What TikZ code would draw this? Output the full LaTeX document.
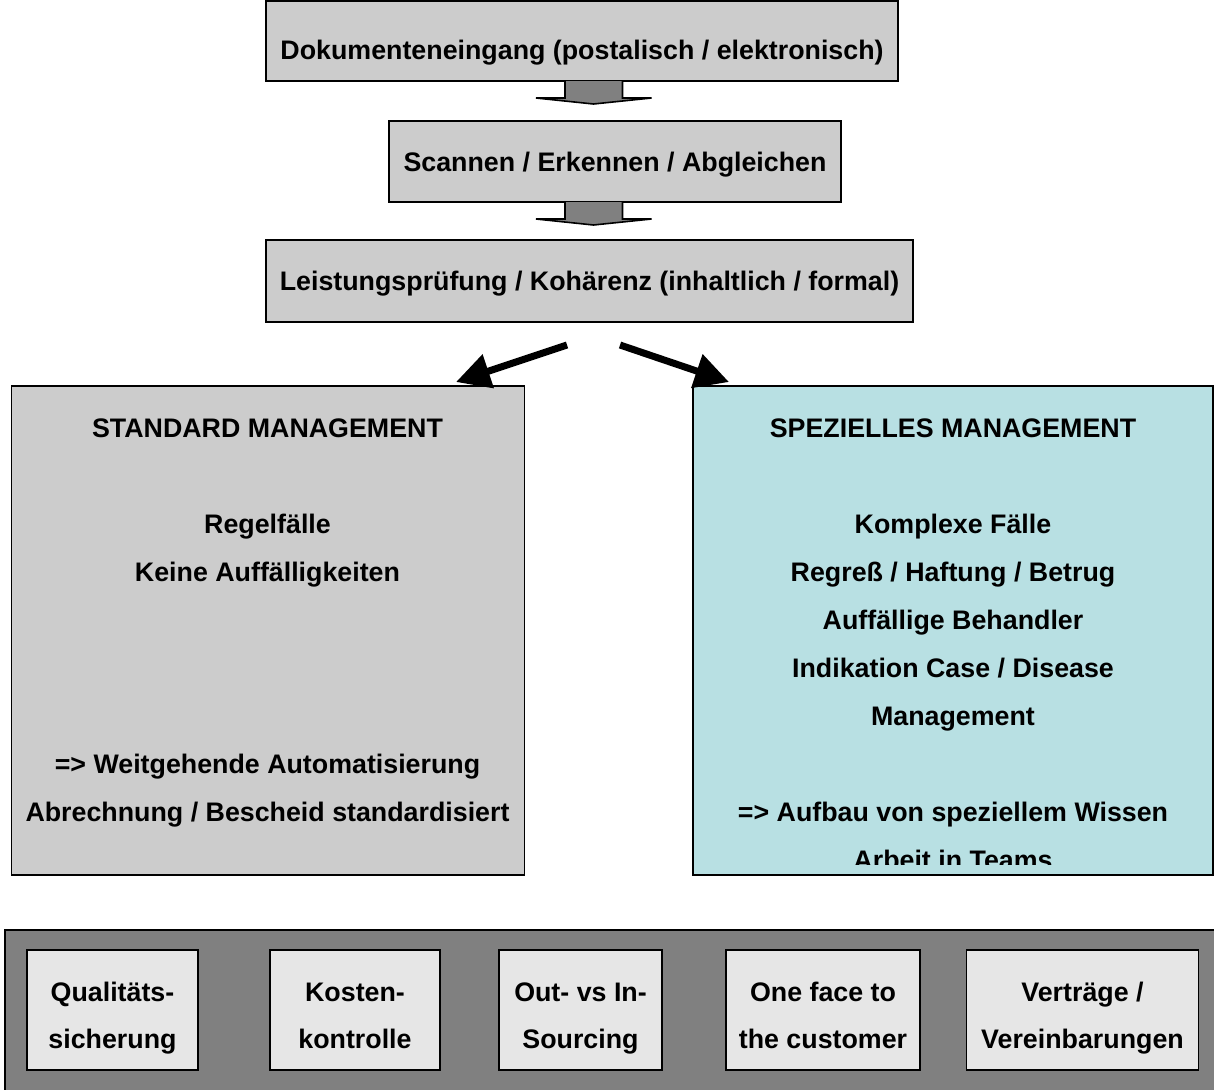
\documentclass[tikz,border=0pt]{standalone}
\usepackage{fontspec}
\setmainfont{Liberation Sans}
\usepackage{tikz}
\usetikzlibrary{positioning,arrows.meta,calc}
\definecolor{boxgray}{HTML}{CCCCCC}
\definecolor{spezcyan}{HTML}{B8E0E3}
\definecolor{bargray}{HTML}{808080}
\definecolor{tilegray}{HTML}{E6E6E6}
\definecolor{shaftgray}{HTML}{808080}
\newcommand{\tstrut}{\rule{0pt}{22pt}}

\begin{document}
\begin{tikzpicture}[x=0.5pt, y=-0.5pt, every node/.style={font=\fontsize{13.4}{24}\selectfont\bfseries}, box/.style={draw, line width=0.8pt, fill=boxgray, inner sep=0pt, align=center}, tile/.style={draw, line width=0.8pt, fill=tilegray, inner sep=0pt, align=center, minimum height=60pt, font=\fontsize{13.4}{23.5}\selectfont\bfseries}, txt/.style={align=center, inner sep=0pt}, blockarrow/.style={draw, line width=0.8pt, fill=shaftgray, line join=miter}, thickarrow/.style={line width=3.5pt, -{Triangle[length=17pt, width=17pt]}}]
\useasboundingbox (0,0) rectangle (1214,1089);
% top chain
\node[box, minimum width=316pt, minimum height=40pt] (eingang) at (582,41) {\raisebox{-9.3pt}[0pt][0pt]{Dokumenteneingang (postalisch / elektronisch)}};
\node[box, minimum width=226pt, minimum height=40.5pt] (scannen) at (615,161.5) {\strut Scannen / Erkennen / Abgleichen};
\node[box, minimum width=323.5pt, minimum height=41pt] (pruefung) at (589.5,281) {\strut Leistungsprüfung / Kohärenz (inhaltlich / formal)};
\coordinate (a1) at (593.5,81);
\coordinate (a2) at (593.5,202);
\foreach \a in {a1,a2}
  \draw[blockarrow] ($(\a)+(-28.5,0)$) -- ++(0,17) -- ++(-29,0) -- ($(\a)+(0,23)$) -- ($(\a)+(58,17)$) -- ++(-29,0) -- ++(0,-17);
% two management boxes
\node[box, minimum width=256.5pt, minimum height=244.5pt] (standard) at (268,630.5) {};
\node[box, fill=spezcyan, minimum width=260pt, minimum height=244.5pt] (speziell) at (953,630.5) {};
\node[txt] (stdTitle) at (267.5,428) {\strut STANDARD MANAGEMENT};
\node[txt] (stdFaelle) at (267.5,548) {\strut Regelfälle\\Keine Auffälligkeiten\strut};
\node[txt] (stdFazit) at (267.5,787.5) {\strut => Weitgehende Automatisierung\\Abrechnung / Bescheid standardisiert\strut};
\node[txt] (spzTitle) at (953,428) {\strut SPEZIELLES MANAGEMENT};
\node[txt] (spzFaelle) at (953,620) {\strut Komplexe Fälle\\Regreß / Haftung / Betrug\\Auffällige Behandler\\Indikation Case / Disease\\Management\strut};
\begin{scope}
\clip (speziell.north west) rectangle ($(speziell.south east)+(0,-11)$);
\node[txt] (spzFazit) at (953,836) {\strut => Aufbau von speziellem Wissen\\Arbeit in Teams\strut};
\end{scope}
\coordinate (splitL) at (567,345);
\coordinate (splitR) at (620,345);
\draw[thickarrow] (splitL) -- (456,382);
\draw[thickarrow] (splitR) -- (729,382);
% bottom bar
\node[draw, line width=0.8pt, fill=bargray, minimum width=610pt, minimum height=81pt, inner sep=0pt] (bar) at (615,1011) {};
\node[tile, minimum width=85.5pt] (qual) at (112.5,1010) {\tstrut Qualitäts-\\sicherung\strut};
\node[tile, minimum width=85pt] (kosten) at (355,1010) {\tstrut Kosten-\\kontrolle\strut};
\node[tile, minimum width=81.5pt] (sourcing) at (580.5,1010) {\tstrut Out- vs In-\\Sourcing\strut};
\node[tile, minimum width=97pt] (face) at (823,1010) {\tstrut One face to\\the customer\strut};
\node[tile, minimum width=116pt] (vertraege) at (1082.5,1010) {\tstrut Verträge /\\Vereinbarungen\strut};
\end{tikzpicture}
\end{document}
